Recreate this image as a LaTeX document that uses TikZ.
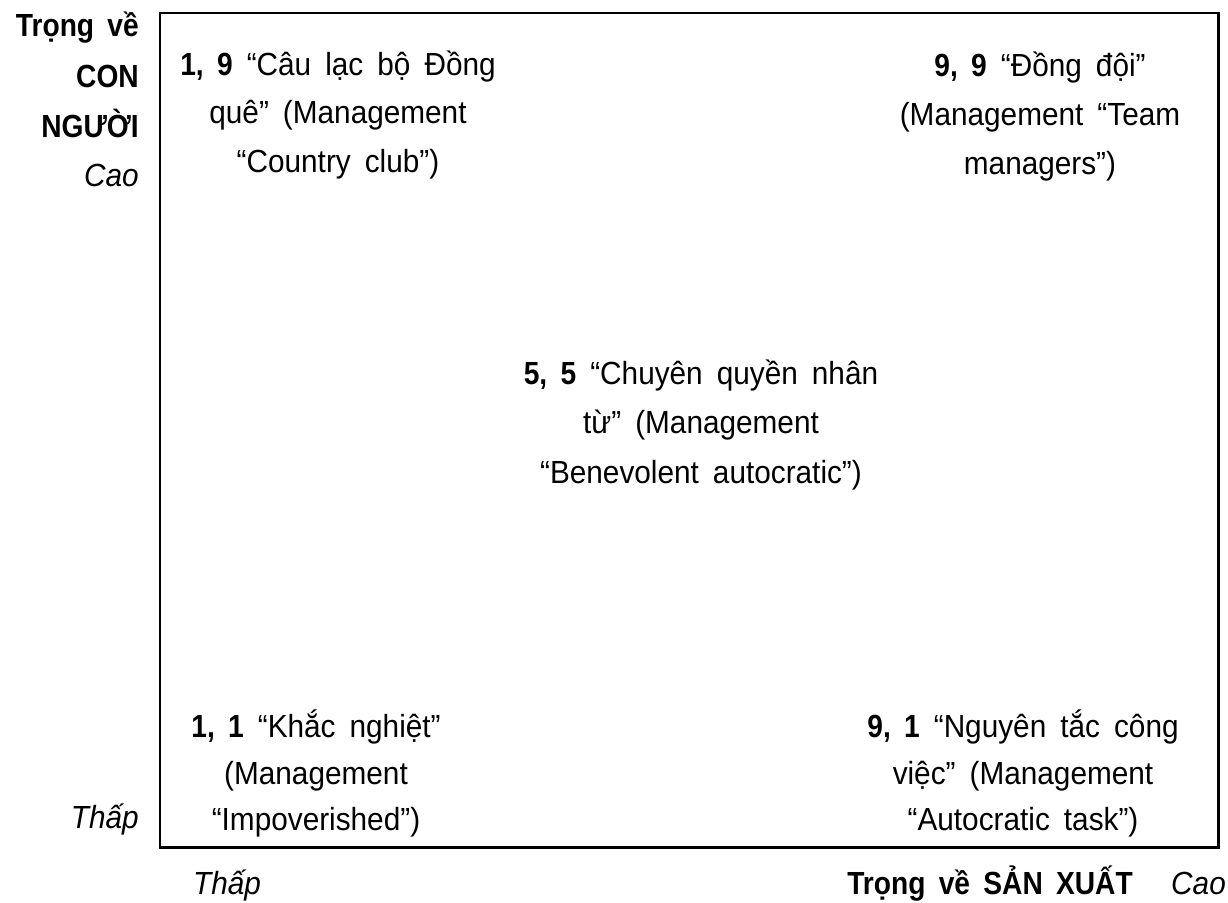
\documentclass[tikz,border=0pt]{standalone}
\usepackage{fontspec}
\setmainfont[FakeStretch=0.93,WordSpace=1.7,BoldFeatures={FakeStretch=0.88}]{Liberation Sans}
\begin{document}
\begin{tikzpicture}[x=1pt,y=-1pt,
  txt/.style={anchor=base,inner sep=0pt,font=\fontsize{32}{40}\selectfont},
  rtxt/.style={txt,anchor=base east},
  ltxt/.style={txt,anchor=base west},
  frame/.style={draw=black,line width=2.5pt}]
\useasboundingbox (0,0) rectangle (1228,902);
\node[frame,minimum width=1058.5,minimum height=834.5,anchor=north west,inner sep=0pt] (box) at (158.5,11.5) {};
% left axis labels
\node[rtxt] (l1) at (139,36) {\textbf{Trọng về}};
\node[rtxt] (l2) at (139,87) {\textbf{CON}};
\node[rtxt] (l3) at (139,137) {\textbf{NGƯỜI}};
\node[rtxt] (l4) at (139,186) {\textit{Cao}};
\node[rtxt] (l5) at (139,828) {\textit{Thấp}};
% bottom axis labels
\node[ltxt] (b1) at (193,894) {\textit{Thấp}};
\node[rtxt] (b2) at (1133,894) {\textbf{Trọng về SẢN XUẤT}};
\node[rtxt] (b3) at (1226,894) {\textit{Cao}};
% 1,9
\node[txt] (a1) at (338,75) {\textbf{1, 9} “Câu lạc bộ Đồng};
\node[txt] (a2) at (338,123) {quê” (Management};
\node[txt] (a3) at (338,172) {“Country club”)};
% 9,9
\node[txt] (c1) at (1040,76) {\textbf{9, 9} “Đồng đội”};
\node[txt] (c2) at (1040,125) {(Management “Team};
\node[txt] (c3) at (1040,174) {managers”)};
% 5,5
\node[txt] (m1) at (701,384) {\textbf{5, 5} “Chuyên quyền nhân};
\node[txt] (m2) at (701,433) {từ” (Management};
\node[txt] (m3) at (701,483) {“Benevolent autocratic”)};
% 1,1
\node[txt] (d1) at (316,737) {\textbf{1, 1} “Khắc nghiệt”};
\node[txt] (d2) at (316,784) {(Management};
\node[txt] (d3) at (316,830) {“Impoverished”)};
% 9,1
\node[txt] (e1) at (1023,737) {\textbf{9, 1} “Nguyên tắc công};
\node[txt] (e2) at (1023,784) {việc” (Management};
\node[txt] (e3) at (1023,830) {“Autocratic task”)};
\end{tikzpicture}
\end{document}
